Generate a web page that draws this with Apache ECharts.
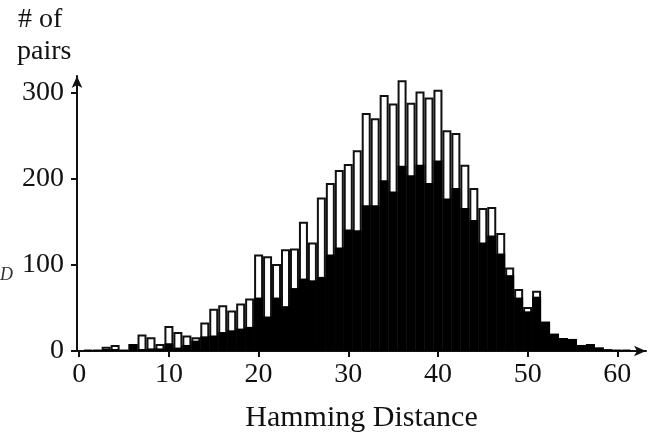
<!DOCTYPE html>
<html>
<head>
<meta charset="utf-8">
<script src="https://cdn.jsdelivr.net/npm/echarts@6/dist/echarts.min.js"></script>
<style>
  html, body { margin: 0; padding: 0; background: #fff; }
  #chart { width: 651px; height: 438px; }
</style>
</head>
<body>
<div id="chart"></div>
<script>
// hamming distance bins 0..61
const distances = [];
for (let i = 0; i <= 61; i++) distances.push(i);

// all pairs (white bars)
const allPairs = [
  0, 1, 1, 5, 7, 1, 8, 19, 16, 8,
  29, 22, 18, 16, 33, 49, 53, 47, 55, 61,
  112, 110, 101, 118, 119, 150, 126, 178, 195, 210,
  217, 233, 276, 270, 297, 287, 314, 288, 301, 294,
  303, 256, 253, 216, 189, 166, 167, 137, 97, 72,
  51, 70, 34, 20, 15, 14, 7, 8, 4, 2,
  1, 1
];

// subset (black bars)
const subsetPairs = [
  0, 1, 1, 2, 2, 1, 8, 2, 3, 3,
  9, 4, 7, 12, 17, 18, 22, 24, 26, 28,
  62, 40, 62, 52, 73, 84, 82, 86, 112, 120,
  141, 140, 169, 169, 198, 185, 215, 204, 216, 195,
  221, 177, 189, 166, 152, 126, 134, 113, 88, 62,
  46, 63, 34, 20, 15, 14, 7, 8, 4, 2,
  1, 1
];

const xTicks = [0, 10, 20, 30, 40, 50, 60];
const yTicks = [0, 100, 200, 300];

const font = "'Liberation Serif', 'DejaVu Serif', serif";
const ink = "#111";

const chart = echarts.init(document.getElementById("chart"));

const option = {
  animation: false,
  backgroundColor: "#fff",
  grid: { left: 77, right: 5, top: 76, bottom: 75 },
  graphic: [
    { type: "text", left: 18, top: 6, style: { text: "# of", font: "28px " + font, fill: ink } },
    { type: "text", left: 17, top: 38, style: { text: "pairs", font: "28px " + font, fill: ink } },
    { type: "text", left: 0, top: 266, style: { text: "D", font: "italic 18px " + font, fill: "#333" } }
  ],
  xAxis: {
    type: "value",
    min: -0.25,
    max: 63.2,
    name: "Hamming Distance",
    nameLocation: "middle",
    nameGap: 52,
    nameTextStyle: { fontFamily: font, fontSize: 30, color: ink },
    splitLine: { show: false },
    axisLine: {
      lineStyle: { color: ink, width: 2 },
      symbol: ["none", "arrow"],
      symbolSize: [8, 12]
    },
    axisTick: {
      customValues: xTicks,
      length: 6,
      lineStyle: { color: ink, width: 2 }
    },
    axisLabel: {
      customValues: xTicks,
      margin: 10,
      fontFamily: font,
      fontSize: 28,
      color: ink
    }
  },
  yAxis: {
    type: "value",
    min: 0,
    max: 319,
    splitLine: { show: false },
    axisLine: {
      show: true,
      onZero: false,
      lineStyle: { color: ink, width: 2 },
      symbol: ["none", "arrow"],
      symbolSize: [8, 12]
    },
    axisTick: {
      show: true,
      customValues: yTicks,
      length: 6,
      lineStyle: { color: ink, width: 2 }
    },
    axisLabel: {
      customValues: yTicks,
      margin: 13,
      fontFamily: font,
      fontSize: 28,
      color: ink
    }
  },
  series: [
    {
      name: "all",
      type: "bar",
      barWidth: 9,
      barGap: "-100%",
      data: distances.map((d, i) => [d, allPairs[i]]),
      itemStyle: { color: "#fff", borderColor: ink, borderWidth: 2 }
    },
    {
      name: "subset",
      type: "bar",
      barWidth: 9,
      barGap: "-100%",
      data: distances.map((d, i) => [d, subsetPairs[i]]),
      itemStyle: { color: "#000" }
    }
  ]
};

chart.setOption(option);
</script>
</body>
</html>
